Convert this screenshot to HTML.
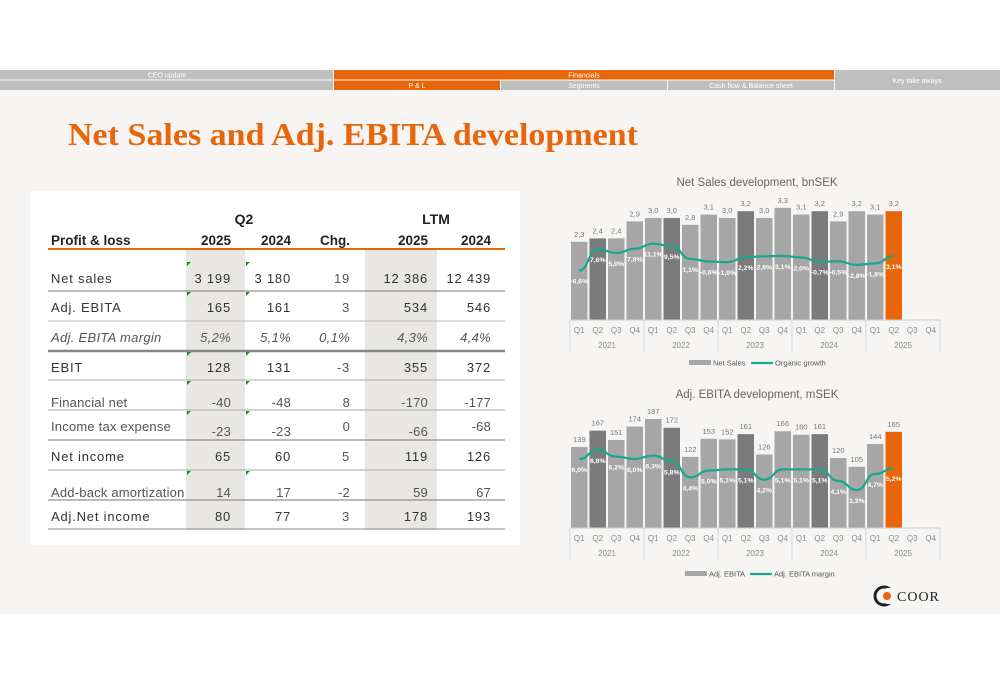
<!DOCTYPE html>
<html><head><meta charset="utf-8"><style>
html,body{margin:0;padding:0;background:#fff;}
svg{display:block;font-family:"Liberation Sans",sans-serif;}
</style></head><body>
<svg id="s" width="1000" height="685" viewBox="0 0 1000 685" xmlns="http://www.w3.org/2000/svg">
<rect x="0" y="0" width="1000" height="685" fill="#fff"/>
<rect x="0" y="90" width="1000" height="524" fill="#f6f5f3"/>
<g font-size="7" fill="#fff" text-anchor="middle">
<rect x="0" y="70" width="333" height="9.5" fill="#bfbfbf"/>
<rect x="0" y="80.5" width="333" height="9.5" fill="#bfbfbf"/>
<rect x="334" y="70" width="500" height="9.5" fill="#e8650a"/>
<rect x="334" y="80.5" width="166" height="9.5" fill="#e8650a"/>
<rect x="501" y="80.5" width="166" height="9.5" fill="#bfbfbf"/>
<rect x="668" y="80.5" width="166" height="9.5" fill="#bfbfbf"/>
<rect x="835" y="70" width="165" height="20" fill="#bfbfbf"/>
<text x="167" y="77.5">CEO update</text>
<text x="584" y="77.5">Financials</text>
<text x="417" y="88">P &amp; L</text>
<text x="584" y="88">Segments</text>
<text x="751" y="88">Cash flow &amp; Balance sheet</text>
<text x="917" y="83">Key take aways</text>
</g>
<text x="68" y="145" font-family="Liberation Serif,serif" font-weight="bold" font-size="32" fill="#e8650a" textLength="570" lengthAdjust="spacingAndGlyphs">Net Sales and Adj. EBITA development</text>
<rect x="30" y="191" width="490" height="354" fill="#fff"/>
<rect x="186" y="250" width="59" height="280" fill="#e8e7e3"/>
<rect x="365" y="250" width="72" height="280" fill="#e8e7e3"/>
<g id="tbl"></g>
<g id="c1"></g>
<g id="c2"></g>
<g>
<circle cx="884" cy="596" r="9" fill="none" stroke="#222" stroke-width="3"/>
<rect x="886" y="588" width="10" height="16" fill="#f6f5f3"/>
<circle cx="887" cy="596" r="4" fill="#e8650a"/>
<text x="897" y="601" font-family="Liberation Serif,serif" font-size="14" fill="#222" letter-spacing="1">COOR</text>
</g>
</svg>
<script>
const NS="http://www.w3.org/2000/svg";
function el(p,t,a,txt){const e=document.createElementNS(NS,t);for(const k in a)e.setAttribute(k,a[k]);if(txt!==undefined)e.textContent=txt;p.appendChild(e);return e;}
const T=document.getElementById('tbl');
const cols=[231,291,350,428,491];
el(T,'text',{x:244,y:224,'font-size':14,'font-weight':'bold',fill:'#222','text-anchor':'middle'},'Q2');
el(T,'text',{x:436,y:224,'font-size':14,'font-weight':'bold',fill:'#222','text-anchor':'middle'},'LTM');
el(T,'text',{x:51,y:245,'font-size':13.5,'font-weight':'bold',fill:'#222'},'Profit & loss');
['2025','2024','Chg.','2025','2024'].forEach((h,i)=>el(T,'text',{x:cols[i],y:245,'font-size':13.5,'font-weight':'bold',fill:'#222','text-anchor':'end'},h));
el(T,'line',{x1:48,x2:505,y1:249,y2:249,stroke:'#e8650a','stroke-width':2});
const rows=[
['Net sales',283,['3 199','3 180','19','12 386','12 439'],0,[0,0,0,0,0]],
['Adj. EBITA',312,['165','161','3','534','546'],0,[0,0,0,0,0]],
['Adj. EBITA margin',342,['5,2%','5,1%','0,1%','4,3%','4,4%'],1,[0,0,0,0,0]],
['EBIT',372,['128','131','-3','355','372'],0,[0,0,0,0,0]],
['Financial net',407,['-40','-48','8','-170','-177'],2,[0,0,0,0,0]],
['Income tax expense',431,['-23','-23','0','-66','-68'],2,[5,5,0,5,0]],
['Net income',461,['65','60','5','119','126'],0,[0,0,0,0,0]],
['Add-back amortization',497,['14','17','-2','59','67'],2,[0,0,0,0,0]],
['Adj.Net income',521,['80','77','3','178','193'],0,[0,0,0,0,0]]];
rows.forEach(r=>{
 const st={'font-size':13,fill:r[3]==2?'#555':'#333','letter-spacing':r[3]==2?0.2:0.8};
 if(r[3]==1){st['font-style']='italic';st.fill='#555';st['letter-spacing']=0.3;}
 el(T,'text',Object.assign({x:51,y:r[1]},st),r[0]);
 r[2].forEach((v,i)=>{const s=Object.assign({x:cols[i],y:r[1]+r[4][i],'text-anchor':'end'},st);if(i==2&&r[3]==0)s.fill='#555';el(T,'text',s,v);});
});
[[291,'#777',1],[321,'#bbb',1],[351,'#888',2.5],[380,'#aaa',1],[410,'#aaa',1],[440,'#777',1],[470,'#aaa',1],[500,'#777',1],[529,'#888',1]].forEach(l=>el(T,'line',{x1:48,x2:505,y1:l[0],y2:l[0],stroke:l[1],'stroke-width':l[2]}));
[262,292,352,381,411,471].forEach(y=>[187,246].forEach(x=>el(T,'path',{d:`M${x} ${y}h4l-4 4z`,fill:'#1a8a1a'})));
function chart(g,o){
 const G=document.getElementById(g);
 el(G,'text',{x:757,y:o.ty,'font-size':11.5,fill:'#6e6259','text-anchor':'middle'},o.title);
 const x0=570,w=18.5;
 o.v.forEach((v,i)=>{
  const h=v*o.k, x=x0+i*w+1;
  let c='#a6a6a6'; if(i%4==1&&i<16)c='#7b7b7b'; if(i==17)c='#e8650a';
  el(G,'rect',{x:x,y:o.base-h,width:16.5,height:h,fill:c});
  el(G,'text',{x:x+8.25,y:o.base-h-5,'font-size':7.5,fill:'#777','text-anchor':'middle'},o.lbl(v));
 });
 const pts=o.p.map((v,i)=>[x0+i*w+9.25,o.c-v*o.pk]);
 let d='M'+pts[0].join(' ');
 for(let i=1;i<pts.length;i++){const a=pts[i-1],b=pts[i],m=(a[0]+b[0])/2;d+=` C${m} ${a[1]} ${m} ${b[1]} ${b[0]} ${b[1]}`;}
 el(G,'path',{d:d,fill:'none',stroke:'#16a88d','stroke-width':2.2});
 pts.forEach((p,i)=>el(G,'text',{x:p[0],y:p[1]+13,'font-size':6.8,'font-weight':'bold',fill:'#fff','text-anchor':'middle'},o.p[i].toFixed(1).replace('.',',')+'%'));
 el(G,'line',{x1:x0,x2:x0+370,y1:o.base,y2:o.base,stroke:'#d0d0d0'});
 for(let y=0;y<=5;y++){const x=x0+y*74;el(G,'line',{x1:x,x2:x,y1:o.base,y2:o.base+32,stroke:'#d8d8d8'});}
 for(let i=0;i<20;i++)el(G,'text',{x:x0+i*w+9.25,y:o.base+13,'font-size':8,fill:'#8a8a8a','text-anchor':'middle'},'Q'+(i%4+1));
 for(let y=0;y<5;y++)el(G,'text',{x:x0+y*74+37,y:o.base+28,'font-size':8,fill:'#8a8a8a','text-anchor':'middle'},2021+y);
 el(G,'rect',{x:o.lx,y:o.ly-3,width:22,height:5,fill:'#a6a6a6'});
 el(G,'text',{x:o.lx+24,y:o.ly+2.5,'font-size':7.5,fill:'#555'},o.l1);
 el(G,'line',{x1:o.lx2,x2:o.lx2+22,y1:o.ly,y2:o.ly,stroke:'#16a88d','stroke-width':2.2});
 el(G,'text',{x:o.lx2+24,y:o.ly+2.5,'font-size':7.5,fill:'#555'},o.l2);
}
chart('c1',{title:'Net Sales development, bnSEK',ty:186,base:320,k:34,
 v:[2.3,2.4,2.4,2.9,3.0,3.0,2.8,3.1,3.0,3.2,3.0,3.3,3.1,3.2,2.9,3.2,3.1,3.2],lbl:v=>v.toFixed(1).replace('.',','),
 p:[-6.6,7.6,5.0,7.8,11.1,9.5,1.1,-0.6,-1.0,2.2,2.8,3.1,2.0,-0.7,-0.5,-2.8,-1.8,3.1],c:260.6,pk:1.525,
 lx:689,lx2:751,ly:363,l1:'Net Sales',l2:'Organic growth'});
chart('c2',{title:'Adj. EBITA development, mSEK',ty:398,base:528,k:0.583,
 v:[139,167,151,174,187,172,122,153,152,161,126,166,160,161,120,105,144,165],lbl:v=>String(v),
 p:[6.0,6.8,6.2,6.0,6.3,5.8,4.4,5.0,5.1,5.1,4.2,5.1,5.1,5.1,4.1,3.3,4.7,5.2],c:528,pk:11.5,
 lx:685,lx2:750,ly:574,l1:'Adj. EBITA',l2:'Adj. EBITA margin'});
</script>
</body></html>
